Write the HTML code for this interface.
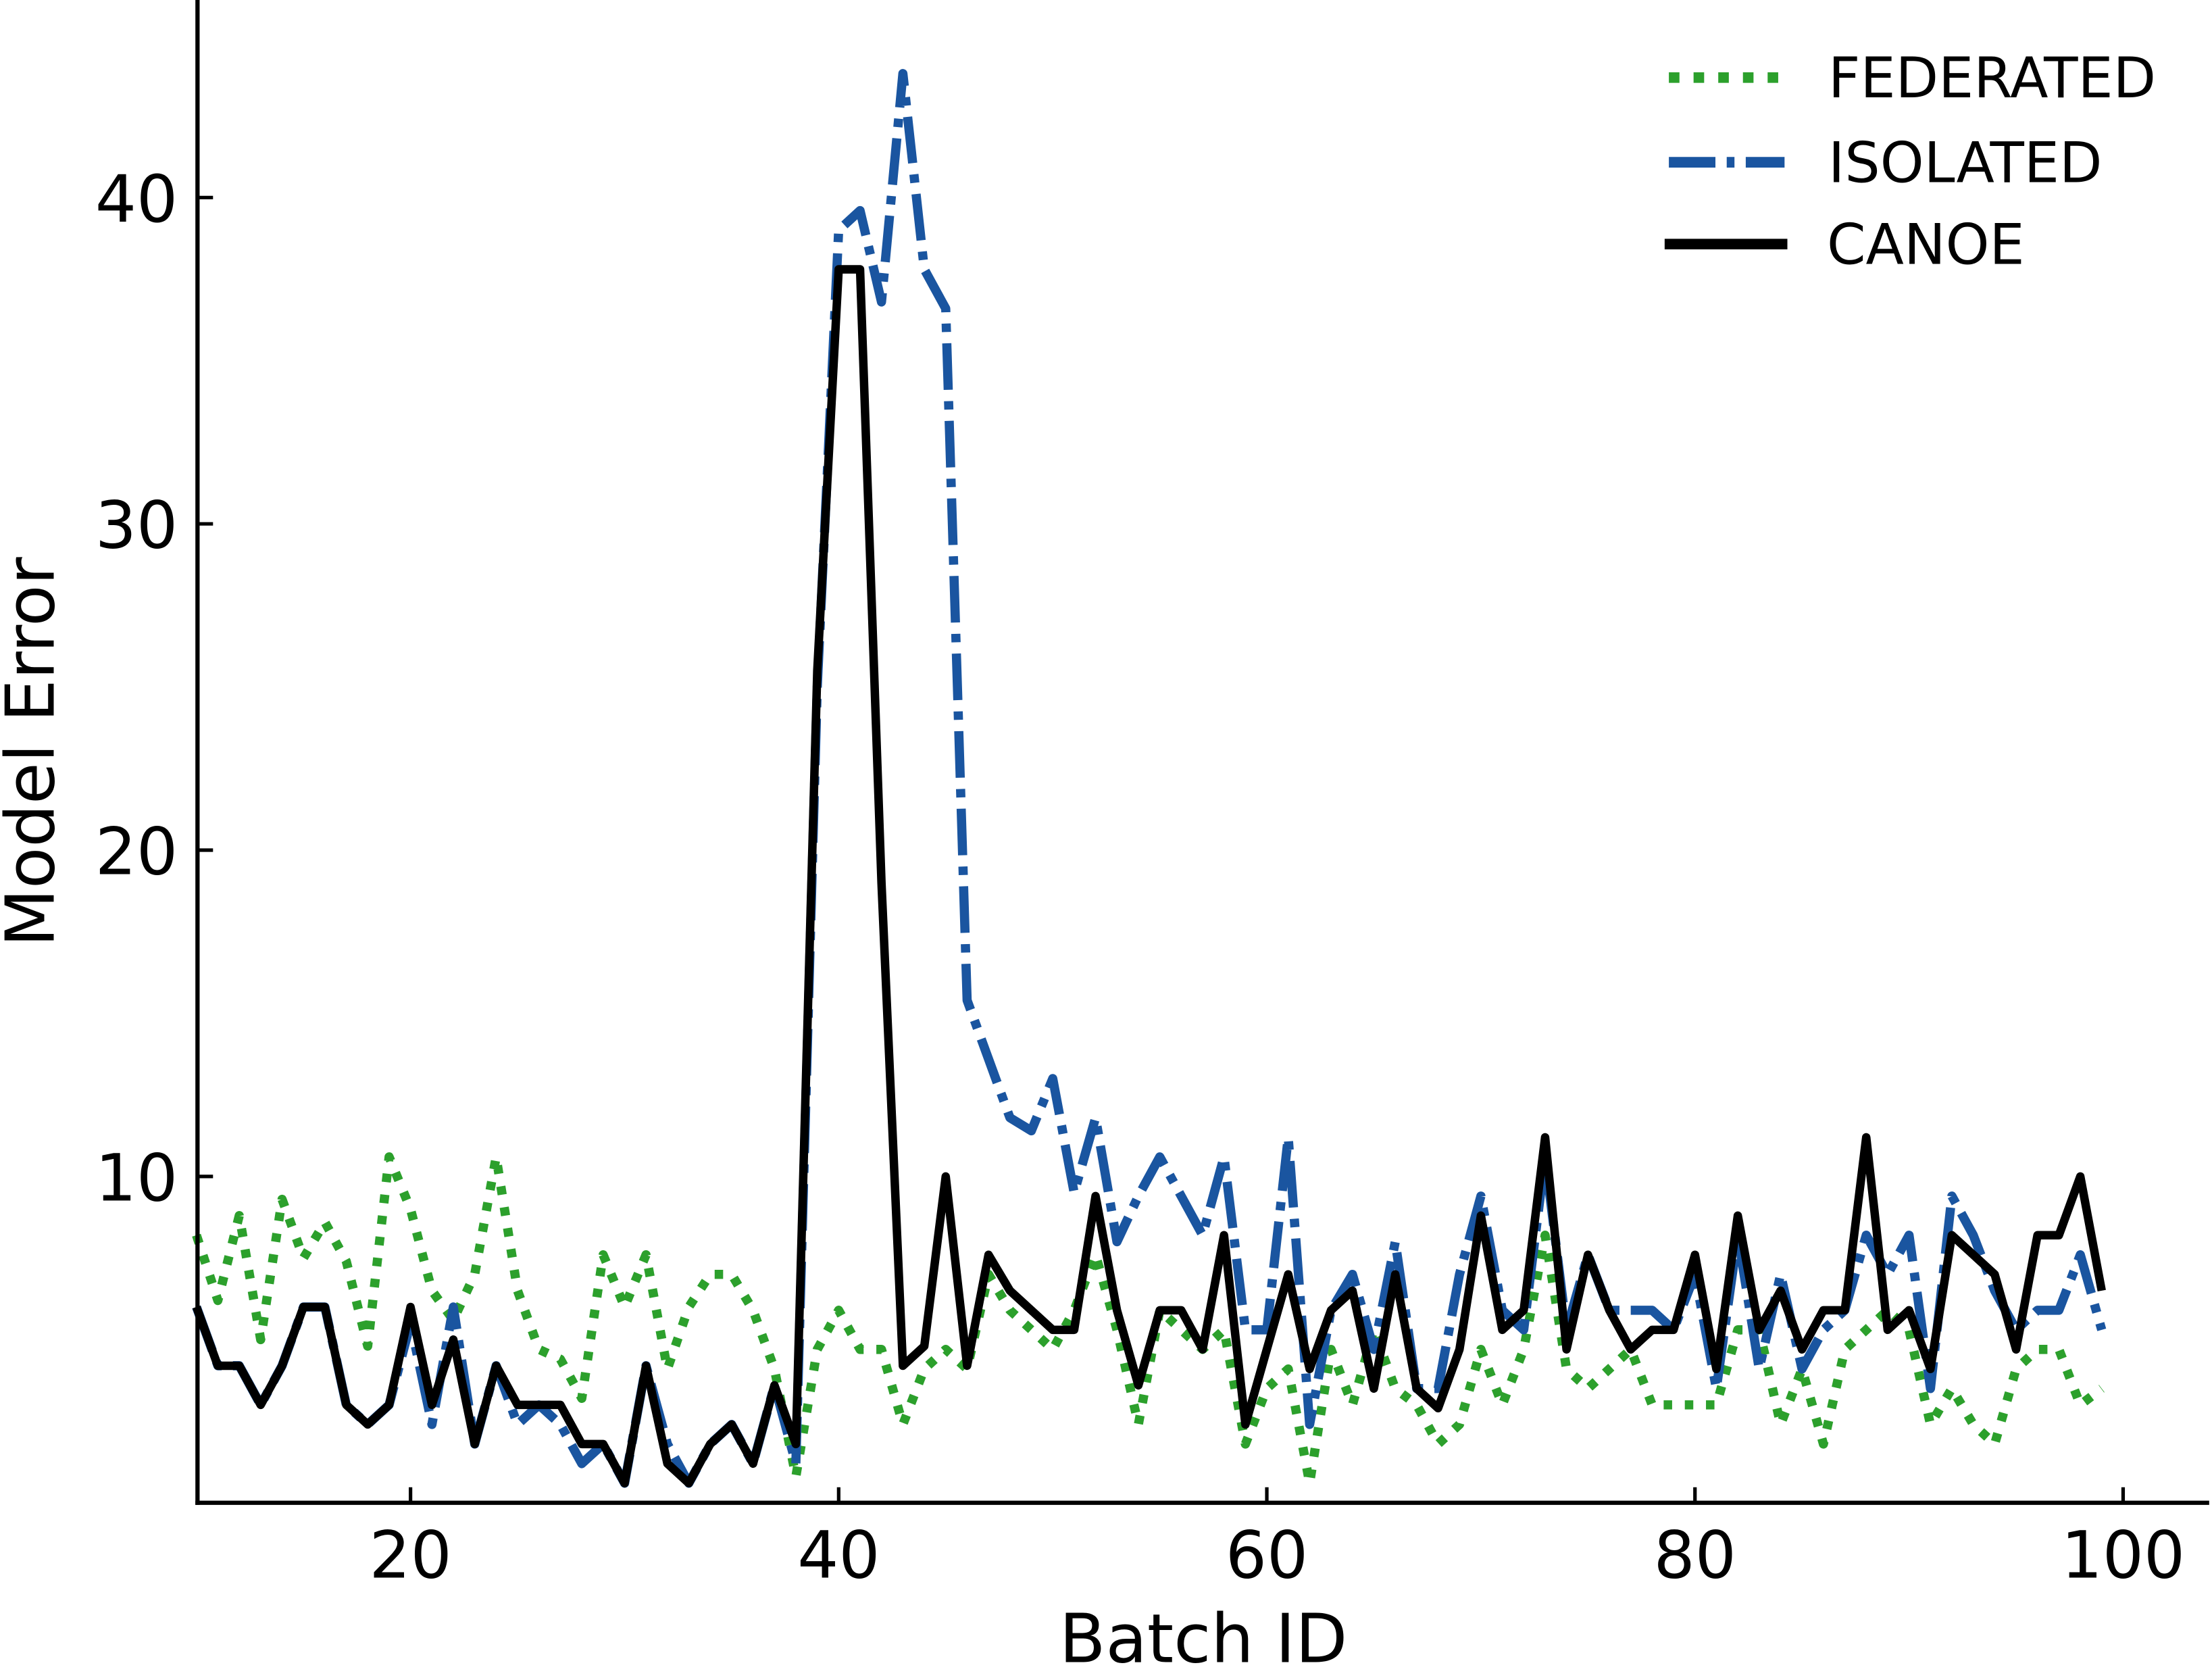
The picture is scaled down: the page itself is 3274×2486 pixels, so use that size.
<!DOCTYPE html>
<html><head><meta charset="utf-8"><style>
html,body{margin:0;padding:0;background:#fff}
svg{display:block}
text{font-family:"DejaVu Sans","Liberation Sans",sans-serif;fill:#000}
</style></head><body>
<svg id="chart" width="3274" height="2486" viewBox="0 0 1568 1190.6" preserveAspectRatio="none" xmlns="http://www.w3.org/2000/svg">
<g id="plot"></g>
<g id="axes"></g>
<g id="legend">
  <line x1="1183" y1="55" x2="1265" y2="55" stroke="#2ca02c" stroke-width="7.5" stroke-dasharray="7.5,10"/>
  <text x="1296" y="69" font-size="39.5">FEDERATED</text>
  <line x1="1183" y1="115" x2="1265" y2="115" stroke="#1a55a0" stroke-width="7.5" stroke-dasharray="33,8,5.5,8"/>
  <text x="1296" y="129" font-size="39.5">ISOLATED</text>
  <line x1="1180" y1="173" x2="1267" y2="173" stroke="#000" stroke-width="7.5"/>
  <text x="1295" y="187" font-size="39.5">CANOE</text>
</g>
</svg>
<script>
const batches = [];
for (let b = 10; b <= 99; b++) batches.push(b);
const canoe = [6,4.2,4.2,3,4.2,6,6,3,2.4,3,6,3,5,1.8,4.2,3,3,3,1.8,1.8,0.6,4.2,1.2,0.6,1.8,2.4,1.2,3.6,1.8,25.5,37.8,37.8,19,4.2,4.8,10,4.2,7.6,6.5,5.9,5.3,5.3,9.4,5.9,3.6,5.9,5.9,4.7,8.2,2.4,4.7,7,4.1,5.9,6.5,3.5,7,3.5,2.9,4.7,8.8,5.3,5.9,11.2,4.7,7.6,5.9,4.7,5.3,5.3,7.6,4.1,8.8,5.3,6.5,4.7,5.9,5.9,11.2,5.3,5.9,4.1,8.2,7.6,7,4.7,8.2,8.2,10,6.5];
const isolated = [6,4.2,4.2,3,4.2,6,6,3,2.4,3,5.5,2.4,6,1.8,4.2,2.4,3,2.4,1.2,1.8,0.6,4.2,1.8,0.6,1.8,2.4,1.2,3.6,1.2,25,39,39.6,36.8,43.8,37.8,36.6,15.4,13.6,11.8,11.4,13,9.5,11.8,8,9.4,10.6,9.4,8.2,10.6,5.3,5.3,11.2,2.4,5.9,7,4.7,8,3.5,3.5,7,9.4,5.9,5.3,10.6,5.3,7.6,5.9,5.9,5.9,5.3,7,3.5,8.2,4.1,7,4.1,5.3,5.9,8.2,7,8.2,3.5,9.4,8.2,6.5,5.3,5.9,5.9,7.6,5.3];
const federated = [8.2,6.2,8.8,5,9.3,7.5,8.6,7.4,4.8,10.6,9,6.5,5.6,7,10.6,6.5,4.7,4.4,3.2,7.6,6,7.6,4.1,6,7,7,5.9,4.1,0.8,4.7,5.9,4.7,4.7,2.4,4.1,4.7,4.1,7,5.9,5.3,4.7,5.9,7.6,5.3,2.4,5.9,5.3,4.7,5.3,1.8,3.5,4.1,0.6,4.7,3,5.3,3.5,3,1.8,2.4,4.7,3,4.7,8.2,4.1,3.5,4.1,4.7,3,3,3,3,5.3,5.3,2.4,4.1,1.8,4.7,5.3,5.9,5.3,2.4,3.5,2.4,1.8,4.1,4.7,4.7,3,3.5];
const xTicks = [20,40,60,80,100];
const yTicks = [10,20,30,40];

const NS = "http://www.w3.org/2000/svg";
const X0 = 140, Y0 = 1065;
function xs(v){ return 291 + (v - 20) * (1505 - 291) / 80; }
function ys(v){ return 1065 - v * (1065 - 140) / 40; }

const plot = document.getElementById('plot');
function series(vals, color, dash, w, name){
  const p = document.createElementNS(NS, 'path');
  p.setAttribute('d', vals.map((v,i)=>(i?'L':'M')+xs(batches[i]).toFixed(2)+','+ys(v).toFixed(2)).join(''));
  p.setAttribute('fill','none');
  p.setAttribute('stroke',color);
  p.setAttribute('stroke-width',w);
  p.setAttribute('stroke-linejoin','round');
  if (dash) p.setAttribute('stroke-dasharray',dash);
  
  
  plot.appendChild(p);
}
series(federated,'#2ca02c','6,9',6.5,'federated-line');
series(isolated,'#1a55a0','33,8,6,8',6.5,'isolated-line');
series(canoe,'#000',null,6,'canoe-line');

const axes = document.getElementById('axes');
function line(x1,y1,x2,y2,w,name){
  const l = document.createElementNS(NS,'line');
  l.setAttribute('x1',x1);l.setAttribute('y1',y1);l.setAttribute('x2',x2);l.setAttribute('y2',y2);
  l.setAttribute('stroke','#000');l.setAttribute('stroke-width',w);
  
  
  axes.appendChild(l);
}
function text(x,y,s,size,anchor,name,rot){
  const t = document.createElementNS(NS,'text');
  t.setAttribute('x',x);t.setAttribute('y',y);t.setAttribute('font-size',size);
  t.setAttribute('text-anchor',anchor);
  if (rot) t.setAttribute('transform','rotate(-90 '+x+' '+y+')');
  t.textContent = s;
  
  
  axes.appendChild(t);
}
line(X0,0,X0,Y0+1.5,3,'y-axis-spine');
line(X0-1.5,Y0,1566,Y0,3,'x-axis-spine');
xTicks.forEach(v=>{ line(xs(v),Y0,xs(v),Y0-11,2.5,'x-tick'); text(xs(v),Y0+53,String(v),46,'middle','x-tick-label'); });
yTicks.forEach(v=>{ line(X0,ys(v),X0+11,ys(v),2.5,'y-tick'); text(X0-14,ys(v)+17,String(v),46,'end','y-tick-label'); });
text(853,1178,'Batch ID',48,'middle','x-axis-title');
text(38,533,'Model Error',48,'middle','y-axis-title',true);
</script>
</body></html>
